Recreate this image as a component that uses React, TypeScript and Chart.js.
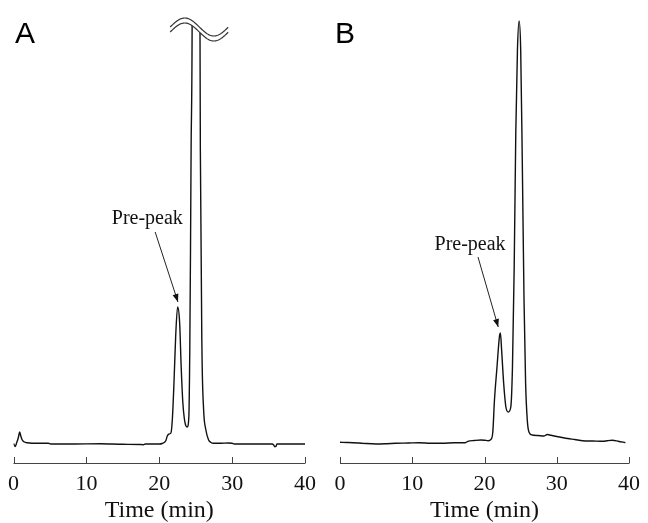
import React, { useEffect, useRef } from 'react';
import { Chart, registerables } from 'chart.js';

Chart.register(...registerables);

// ---- data (time in min, detector response in arbitrary units) ----
const TIME_TICKS = [0, 10, 20, 30, 40];

const timeA = [0, 0.25, 0.4, 0.65, 0.85, 1.0, 1.2, 1.5, 1.9, 2.5, 3.5, 4.8, 5.1, 8, 12, 15, 17.5, 17.8, 18.1, 20.0, 20.4, 20.9, 21.1, 21.35, 21.6, 21.8, 22.02, 22.25, 22.52, 22.8, 23.01, 23.24, 23.45, 23.61, 23.83, 24.06, 24.19, 24.29, 24.37, 24.51, 24.8, 25.07, 25.35, 25.59, 25.64, 25.86, 26.09, 26.4, 26.77, 27.1, 27.45, 28.5, 29.5, 30.0, 30.3, 33, 35.5, 35.7, 35.85, 36.0, 36.15, 38, 40];
const signalA = [0.5, -2.5, 0.5, 6, 12, 8, 4, 2, 1.2, 0.8, 0.8, 0.8, 0, 0, 0.3, -0.3, -0.5, -0.8, 0, 0, 0.5, 3.3, 8, 10, 11, 25, 61, 107, 137, 121, 77, 41, 25, 19, 17, 27, 94, 194, 294, 416, 1400, 2200, 1400, 416, 294, 94, 34, 14, 4, 1.5, 0.7, 0.8, 1, 0.8, 0, 0, 0, -1, -2.7, -2.5, 0, 0, 0];

const timeB = [0, 1.0, 1.8, 3.0, 5.0, 6.5, 7.7, 9.5, 10.9, 12.5, 14.1, 15.8, 17.3, 17.7, 18.6, 19.5, 20.0, 20.5, 20.9, 21.15, 21.38, 21.73, 22.06, 22.2, 22.37, 22.65, 22.96, 23.29, 23.64, 23.87, 24.11, 24.33, 24.56, 24.79, 25.01, 25.24, 25.47, 25.69, 25.92, 26.15, 26.6, 27.4, 28.2, 28.7, 29.2, 30.0, 30.6, 31.5, 32.5, 33.6, 35.0, 36.4, 37.0, 37.7, 38.5, 39.5];
const signalB = [1.7, 1.5, 1.3, 0.8, 0, 0.3, 0.7, 1.0, 1.3, 0.8, 0.7, 1.2, 1.3, 2.7, 3.5, 4, 3.8, 3.3, 4.7, 12, 44, 77, 107, 111, 94, 61, 37, 32, 37, 77, 177, 311, 394, 423, 394, 277, 144, 61, 24, 12, 9, 8.5, 8, 9.5, 8.7, 7.5, 6.7, 5.5, 4.5, 3.3, 3.0, 2.7, 3.3, 3.7, 2.8, 1.3];

const PANEL_LABELS = ['A', 'B'];
const ANNOTATION_TEXT = 'Pre-peak';

const SERIF = '"Liberation Serif", "Times New Roman", serif';
const SANS = '"Liberation Sans", Arial, sans-serif';

const decorPlugin = {
  id: 'decor',
  afterDraw(chart: any, _args: any, opts: any) {
    const { ctx, chartArea } = chart;
    const x = chart.scales.x;
    const y = chart.scales.y;
    const axisY = chartArea.bottom;
    ctx.save();

    // axis line + inward ticks
    ctx.strokeStyle = '#444';
    ctx.lineWidth = 1;
    ctx.beginPath();
    ctx.moveTo(x.getPixelForValue(TIME_TICKS[0]), axisY + 0.5);
    ctx.lineTo(x.getPixelForValue(TIME_TICKS[TIME_TICKS.length - 1]), axisY + 0.5);
    for (const t of TIME_TICKS) {
      const px = Math.round(x.getPixelForValue(t)) + 0.5;
      ctx.moveTo(px, axisY - 6);
      ctx.lineTo(px, axisY + 0.5);
    }
    ctx.stroke();

    // axis break symbol
    if (opts.brk) {
      const { t0, t1, mid, amp, gap } = opts.brk;
      const x0 = x.getPixelForValue(t0);
      const x1 = x.getPixelForValue(t1);
      const wave = (px: number, off: number) => {
        const base = y.getPixelForValue(mid - off);
        const a = y.getPixelForValue(mid) - y.getPixelForValue(mid + amp);
        return base - a * Math.sin((2 * Math.PI * (px - x0)) / (x1 - x0));
      };
      ctx.fillStyle = '#fff';
      ctx.beginPath();
      ctx.moveTo(x0, 0);
      ctx.lineTo(x1, 0);
      for (let px = x1; px >= x0; px -= 0.5) ctx.lineTo(px, wave(px, gap));
      ctx.closePath();
      ctx.fill();
      ctx.strokeStyle = '#333';
      ctx.lineWidth = 1.2;
      for (const off of [0, gap]) {
        ctx.beginPath();
        for (let px = x0; px <= x1; px += 0.5) {
          const yy = wave(px, off);
          if (px === x0) ctx.moveTo(px, yy);
          else ctx.lineTo(px, yy);
        }
        ctx.stroke();
      }
    }

    // annotation
    if (opts.note) {
      const n = opts.note;
      ctx.fillStyle = '#111';
      ctx.font = `20px ${SERIF}`;
      ctx.textAlign = 'center';
      ctx.textBaseline = 'alphabetic';
      ctx.fillText(ANNOTATION_TEXT, x.getPixelForValue(n.textT), y.getPixelForValue(n.textV));
      const sx = x.getPixelForValue(n.fromT);
      const sy = y.getPixelForValue(n.fromV);
      const ex = x.getPixelForValue(n.toT);
      const ey = y.getPixelForValue(n.toV);
      ctx.strokeStyle = '#222';
      ctx.lineWidth = 1;
      ctx.beginPath();
      ctx.moveTo(sx, sy);
      ctx.lineTo(ex, ey);
      ctx.stroke();
      const ang = Math.atan2(ey - sy, ex - sx);
      const L = 8, W = 3;
      ctx.beginPath();
      ctx.moveTo(ex, ey);
      ctx.lineTo(ex - L * Math.cos(ang) + W * Math.sin(ang), ey - L * Math.sin(ang) - W * Math.cos(ang));
      ctx.lineTo(ex - L * Math.cos(ang) - W * Math.sin(ang), ey - L * Math.sin(ang) + W * Math.cos(ang));
      ctx.closePath();
      ctx.fillStyle = '#111';
      ctx.fill();
    }

    // panel letter
    ctx.fillStyle = '#000';
    ctx.font = `30px ${SANS}`;
    ctx.textAlign = 'left';
    ctx.textBaseline = 'alphabetic';
    ctx.fillText(opts.letter, opts.letterX, opts.letterY);

    ctx.restore();
  },
};

function makeConfig(times: number[], signal: number[], padLeft: number, padRight: number, decor: any): any {
  return {
    type: 'line',
    data: {
      datasets: [
        {
          data: times.map((t, i) => ({ x: t, y: signal[i] })),
          borderColor: '#111',
          borderWidth: 1.4,
          pointRadius: 0,
          cubicInterpolationMode: 'monotone',
          fill: false,
        },
      ],
    },
    options: {
      responsive: false,
      animation: false,
      events: [],
      layout: { padding: { left: padLeft, right: padRight, top: 12, bottom: 0 } },
      plugins: { legend: { display: false }, tooltip: { enabled: false }, decor },
      scales: {
        x: {
          type: 'linear',
          min: 0,
          max: 40,
          grid: { display: false, drawTicks: false },
          border: { display: false },
          ticks: {
            stepSize: 10,
            maxRotation: 0,
            color: '#111',
            padding: 8,
            font: { family: SERIF, size: 22 },
          },
          title: {
            display: true,
            text: 'Time (min)',
            color: '#111',
            padding: { top: 0, bottom: 0 },
            font: { family: SERIF, size: 24, lineHeight: 1.0 },
          },
          afterFit: (s: any) => {
            s.height = 60;
          },
        },
        y: { display: false, min: -19, max: 432 },
      },
    },
    plugins: [decorPlugin],
  };
}

export default function App() {
  const refA = useRef<HTMLCanvasElement>(null);
  const refB = useRef<HTMLCanvasElement>(null);

  useEffect(() => {
    const a = new Chart(
      refA.current as HTMLCanvasElement,
      makeConfig(timeA, signalA, 12.7, 16.5, {
        letter: PANEL_LABELS[0],
        letterX: 15,
        letterY: 43,
        brk: { t0: 21.5, t1: 29.5, mid: 417, amp: 9, gap: 5 },
        note: { textT: 18.36, textV: 220, fromT: 19.44, fromV: 212, toT: 22.57, toV: 142 },
      })
    );
    const b = new Chart(
      refB.current as HTMLCanvasElement,
      makeConfig(timeB, signalB, 16, 14.7, {
        letter: PANEL_LABELS[1],
        letterX: 11,
        letterY: 43,
        note: { textT: 18.0, textV: 194, fromT: 19.1, fromV: 187, toT: 21.9, toV: 117 },
      })
    );
    return () => {
      a.destroy();
      b.destroy();
    };
  }, []);

  return (
    <div style={{ position: 'absolute', left: 0, top: 0, width: 648, height: 523, background: '#fff' }}>
      <canvas ref={refA} width={324} height={523} style={{ position: 'absolute', left: 0, top: 0, width: 324, height: 523 }} />
      <canvas ref={refB} width={324} height={523} style={{ position: 'absolute', left: 324, top: 0, width: 324, height: 523 }} />
    </div>
  );
}
